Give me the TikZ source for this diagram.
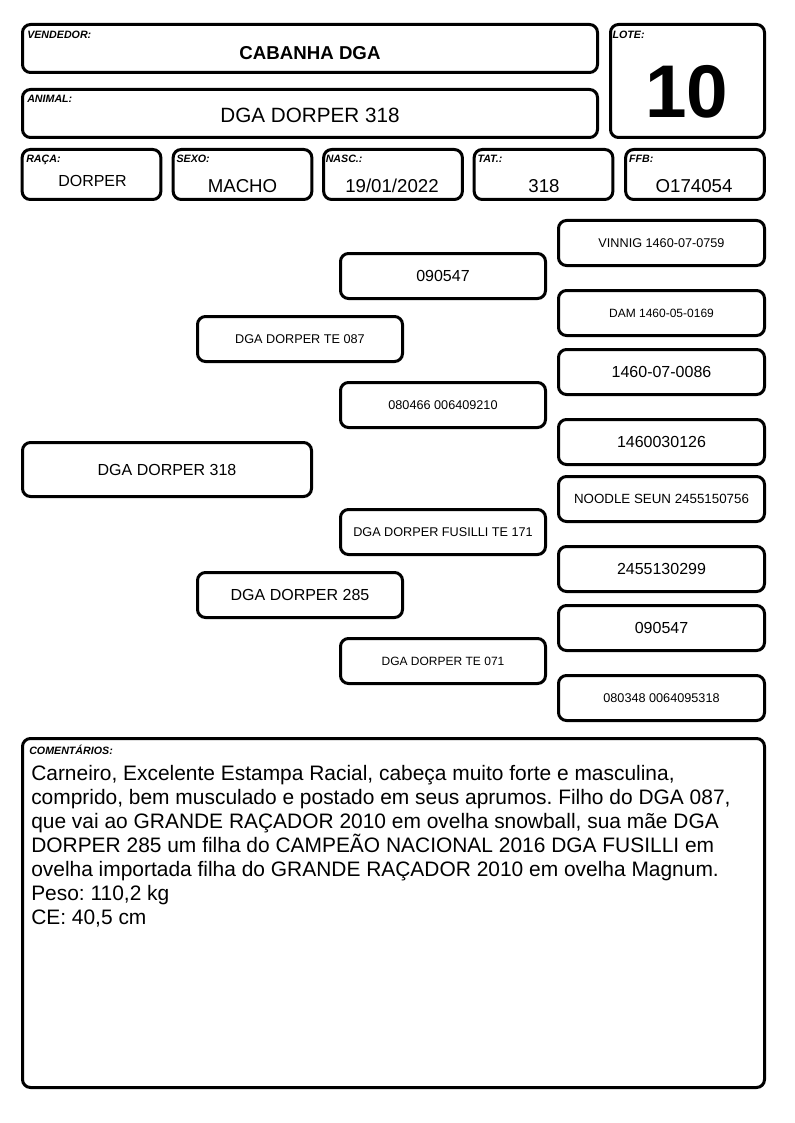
\documentclass[tikz,border=0pt]{standalone}
\usepackage{fontspec}
\setmainfont{Liberation Sans}
\usepackage{tikz}
\usetikzlibrary{positioning}
\frenchspacing

\begin{document}
\begin{tikzpicture}[
    x=0.75pt, y=-0.75pt,
    field/.style={rectangle, draw, line width=2.25pt, rounded corners=6pt, inner sep=0pt, align=center},
    tag/.style={font=\bfseries\itshape\fontsize{8}{9}\selectfont, inner sep=0pt},
    infobox/.style={field, minimum width=104pt, minimum height=37.5pt},
    gen1/.style={field, minimum width=216.75pt, minimum height=40.5pt},
    gen2/.style={field, minimum width=153.75pt, minimum height=33.75pt},
    gen4/.style={field, minimum width=154.5pt, minimum height=33.75pt},
    big/.style={font=\fontsize{12}{14}\selectfont},
    small/.style={font=\fontsize{9.5}{11}\selectfont},
    value/.style={font=\fontsize{14}{16}\selectfont, inner sep=0pt}
]
\useasboundingbox (0,0) rectangle (794,1123);

% Header
\node[field, minimum width=431.25pt, minimum height=36pt] (vendedor) at (310,48.5) {};
\node[tag, below right=5.5pt and 4.5pt of vendedor.north west] (vendedortag) {VENDEDOR:};
\node[value, font=\bfseries\fontsize{14}{16}\selectfont] (vendedorval) at (310,53) {CABANHA DGA};

\node[field, minimum width=431.25pt, minimum height=36pt] (animal) at (310,113.5) {};
\node[tag, below right=5.5pt and 4.5pt of animal.north west] (animaltag) {ANIMAL:};
\node[value, font=\fontsize{15.5}{17}\selectfont] (animalval) at (310,115.5) {DGA DORPER 318};

\node[field, minimum width=115.5pt, minimum height=84.75pt] (lote) at (687.5,81) {};
\node[tag, below right=5.5pt and 2.5pt of lote.north west] (lotetag) {LOTE:};
\node[value, font=\bfseries\fontsize{56}{56}\selectfont] (loteval) at (687,92) {10};

% Dados do animal
\node[infobox] (raca) at (91.5,174.5) {};
\node[tag, below right=5pt and 4pt of raca.north west] (racatag) {RAÇA:};
\node[value, font=\fontsize{12}{14}\selectfont] (racaval) at (92.5,181) {DORPER};

\node[infobox] (sexo) at (242.5,174.5) {};
\node[tag, below right=5pt and 3.5pt of sexo.north west] (sexotag) {SEXO:};
\node[value] (sexoval) at (242.5,186) {MACHO};

\node[infobox] (nasc) at (393,174.5) {};
\node[tag, below right=5pt and 2.5pt of nasc.north west] (nasctag) {NASC.:};
\node[value] (nascval) at (392,186) {19/01/2022};

\node[infobox] (tat) at (543.5,174.5) {};
\node[tag, below right=5pt and 3.5pt of tat.north west] (tattag) {TAT.:};
\node[value] (tatval) at (544,186) {318};

\node[infobox] (ffb) at (695,174.5) {};
\node[tag, below right=5pt and 3.5pt of ffb.north west] (ffbtag) {FFB:};
\node[value] (ffbval) at (694,186) {O174054};

% Genealogia
\node[gen1, big] (animalped) at (167,469.5) {DGA DORPER 318};

\node[gen2, small] (pai) at (300,339) {DGA DORPER TE 087};
\node[gen2, big] (mae) at (300,595) {DGA DORPER 285};

\node[gen2, big] (avopp) at (443,276) {090547};
\node[gen2, small] (avopm) at (443,405) {080466 006409210};
\node[gen2, small] (avomp) at (443,532) {DGA DORPER FUSILLI TE 171};
\node[gen2, small, font=\fontsize{9}{11}\selectfont] (avomm) at (443,661) {DGA DORPER TE 071};

\node[gen4, small] (bisa1) at (661.5,243) {VINNIG 1460-07-0759};
\node[gen4, small, font=\fontsize{9}{11}\selectfont] (bisa2) at (661.5,313) {DAM 1460-05-0169};
\node[gen4, big] (bisa3) at (661.5,372) {1460-07-0086};
\node[gen4, big] (bisa4) at (661.5,442) {1460030126};
\node[gen4, small, font=\fontsize{10}{12}\selectfont] (bisa5) at (661.5,499) {NOODLE SEUN 2455150756};
\node[gen4, big] (bisa6) at (661.5,569) {2455130299};
\node[gen4, big] (bisa7) at (661.5,628) {090547};
\node[gen4, small] (bisa8) at (661.5,698) {080348 0064095318};

% Comentarios
\node[field, minimum width=556.5pt, minimum height=261.75pt] (coment) at (393.5,913) {};
\node[tag, below right=5.5pt and 6pt of coment.north west] (comenttag) {COMENTÁRIOS:};
\node[anchor=north west, inner sep=0pt, align=left, font=\fontsize{15.7}{18}\selectfont] (comenttext) at (31,765) {Carneiro, Excelente Estampa Racial, cabeça muito forte e masculina,\\
comprido, bem musculado e postado em seus aprumos. Filho do DGA 087,\\
que vai ao GRANDE RAÇADOR 2010 em ovelha snowball, sua mãe DGA\\
DORPER 285 um filha do CAMPEÃO NACIONAL 2016 DGA FUSILLI em\\
ovelha importada filha do GRANDE RAÇADOR 2010 em ovelha Magnum.\\
Peso: 110,2 kg\\
CE: 40,5 cm};

\end{tikzpicture}
\end{document}
